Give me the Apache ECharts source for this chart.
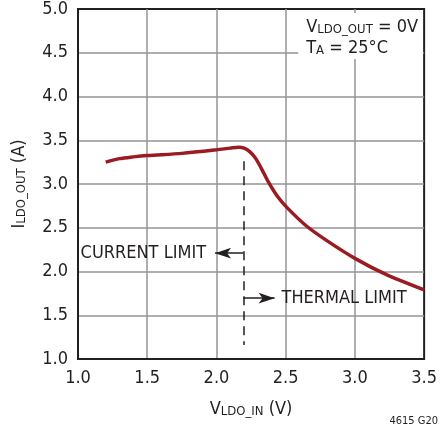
<!DOCTYPE html>
<html>
<head>
<meta charset="utf-8">
<script src="https://cdn.jsdelivr.net/npm/echarts@6/dist/echarts.min.js"></script>
<style>
html,body{margin:0;padding:0;background:#fff;}
#c{width:440px;height:429px;}
</style>
</head>
<body>
<div id="c"></div>
<script>
// Data
var vin = [1.2, 1.3, 1.4, 1.5, 1.75, 2.0, 2.1, 2.16, 2.2, 2.24, 2.28, 2.31, 2.34, 2.38, 2.44, 2.51, 2.65, 2.8, 3.0, 3.22, 3.5];
var iout = [3.25, 3.29, 3.31, 3.325, 3.35, 3.39, 3.41, 3.42, 3.41, 3.37, 3.30, 3.22, 3.13, 3.01, 2.86, 2.73, 2.52, 2.35, 2.15, 1.97, 1.79];
var xTicks = [1.0, 1.5, 2.0, 2.5, 3.0, 3.5];
var yTicks = [1.0, 1.5, 2.0, 2.5, 3.0, 3.5, 4.0, 4.5, 5.0];
var limitX = 2.195;
var dashLine = [[limitX, 3.26], [limitX, 1.16]];
var currentArrow = [[limitX, 2.21], [1.99, 2.21]];
var thermalArrow = [[limitX, 1.695], [2.42, 1.695]];
var labelsText = ['CURRENT LIMIT', 'THERMAL LIMIT'];
var labelsPos = [[1.925, 2.21], [2.47, 1.695]];

var FONT = '"Liberation Sans Narrow", "DejaVu Sans Condensed", "Liberation Sans", sans-serif';
var TXT = '#231f20';
var chart = echarts.init(document.getElementById('c'), null, {renderer: 'canvas'});

var subRich = {
  m: {fontFamily: FONT, fontSize: 18, color: TXT, lineHeight: 22, verticalAlign: 'bottom'},
  s: {fontFamily: FONT, fontSize: 13, color: TXT, lineHeight: 22, verticalAlign: 'bottom', padding: [6, 0, 0, 0]}
};

var option = {
  animation: false,
  backgroundColor: '#fff',
  grid: {left: 78, right: 11, top: 6, bottom: 70, show: true, borderColor: TXT, borderWidth: 2, backgroundColor: 'transparent'},
  xAxis: {
    type: 'value', min: xTicks[0], max: xTicks[xTicks.length - 1], interval: 0.5,
    axisLine: {show: true, lineStyle: {color: TXT, width: 2}},
    axisTick: {show: false},
    axisLabel: {color: TXT, fontFamily: FONT, fontSize: 18, margin: 10, formatter: function (v) { return v.toFixed(1); }},
    splitLine: {show: true, showMinLine: false, showMaxLine: false, lineStyle: {color: '#949494', width: 1.5}},
    name: '{m|V}{s|LDO_IN}{m| (V)}',
    nameLocation: 'middle', nameGap: 37,
    nameTextStyle: {rich: subRich}
  },
  yAxis: {
    type: 'value', min: yTicks[0], max: yTicks[yTicks.length - 1], interval: 0.5,
    axisLine: {show: true, lineStyle: {color: TXT, width: 2}},
    axisTick: {show: false},
    axisLabel: {color: TXT, fontFamily: FONT, fontSize: 18, margin: 10, formatter: function (v) { return v.toFixed(1); }},
    splitLine: {show: true, showMinLine: false, showMaxLine: false, lineStyle: {color: '#949494', width: 1.5}},
    name: '{m|I}{s|LDO_OUT}{m| (A)}',
    nameLocation: 'middle', nameGap: 50, nameRotate: 90,
    nameTextStyle: {rich: subRich}
  },
  series: [
    {
      type: 'line', smooth: 0.3, symbol: 'none',
      data: vin.map(function (v, i) { return [v, iout[i]]; }),
      lineStyle: {color: '#9b1b22', width: 3.5},
      z: 5
    },
    {
      type: 'line', data: [], symbol: 'none',
      markLine: {
        silent: true, symbol: ['none', 'none'], animation: false,
        label: {show: false},
        lineStyle: {color: TXT, width: 1.5, type: [9, 6]},
        data: [[{coord: dashLine[0]}, {coord: dashLine[1]}]]
      }
    },
    {
      type: 'line', data: [], symbol: 'none',
      markLine: {
        silent: true, symbol: ['none', 'arrow'], symbolSize: [8, 16], animation: false,
        label: {show: false},
        lineStyle: {color: TXT, width: 1.5, type: 'solid'},
        data: [
          [{coord: currentArrow[0]}, {coord: currentArrow[1]}],
          [{coord: thermalArrow[0]}, {coord: thermalArrow[1]}]
        ]
      }
    },
    {
      type: 'scatter', symbolSize: 0, silent: true,
      itemStyle: {opacity: 1},
      data: labelsPos.map(function (p, i) { return {value: p, name: labelsText[i], label: {position: i === 0 ? 'left' : 'right', distance: 0}}; }),
      label: {show: true, formatter: '{b}', color: TXT, opacity: 1, fontFamily: FONT, fontSize: 18}
    }
  ],
  graphic: [
    {
      type: 'text', right: 17, top: 13, z: 10,
      style: {
        text: '{m|V}{s|LDO_OUT}{m| = 0V}\n{m|T}{s|A}{m| = 25°C}',
        align: 'right',
        backgroundColor: '#fff',
        padding: [2, 5, 2, 8],
        rich: {
          m: {fontFamily: FONT, fontSize: 18, fill: TXT, lineHeight: 21, verticalAlign: 'bottom'},
          s: {fontFamily: FONT, fontSize: 13, fill: TXT, lineHeight: 21, verticalAlign: 'bottom', padding: [6, 0, 0, 0]}
        }
      }
    },
    {
      type: 'text', right: 2, bottom: 2,
      style: {text: '4615 G20', fontFamily: FONT, fontSize: 11, fill: TXT}
    }
  ]
};
chart.setOption(option);
</script>
</body>
</html>
